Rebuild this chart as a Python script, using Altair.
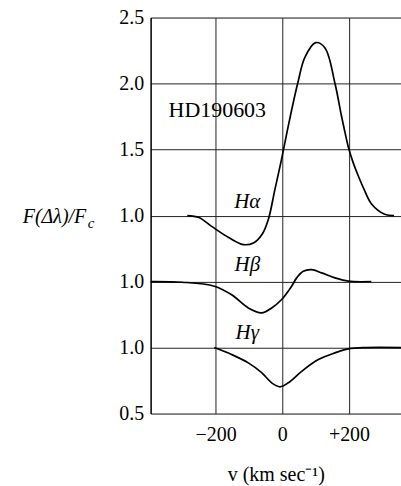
import altair as alt
import pandas as pd

# Balmer line profiles of HD190603: velocity (km/s) and normalised flux F/Fc
v_alpha = [-285, -250, -213, -162, -117, -85, -60, -42, -22, -2, 18, 46, 68, 100, 128, 158, 177, 188, 198, 212, 228, 245, 267, 307, 335]
f_alpha = [1.0, 0.985, 0.92, 0.835, 0.78, 0.795, 0.86, 0.97, 1.2, 1.43, 1.68, 2.0, 2.2, 2.31, 2.27, 2.0, 1.76, 1.63, 1.52, 1.405, 1.30, 1.20, 1.09, 1.01, 1.0]

v_beta = [-395, -300, -204, -152, -102, -62, -32, -2, 28, 43, 63, 88, 118, 158, 198, 267]
f_beta = [1.0, 0.995, 0.965, 0.90, 0.80, 0.763, 0.80, 0.864, 0.965, 1.028, 1.078, 1.09, 1.066, 1.028, 1.003, 1.0]

v_gamma = [-204, -152, -102, -62, -32, -7, 18, 58, 108, 158, 198, 250, 356]
f_gamma = [1.0, 0.947, 0.884, 0.81, 0.733, 0.703, 0.733, 0.82, 0.909, 0.96, 0.99, 1.0, 1.0]

# vertical shift applied to each profile so they stack on one axis
series_names = ["Hα", "Hβ", "Hγ"]
series_offsets = [1.0, 0.5, 0.0]

# axis ticks and the labels printed at them
y_tick_values = [0.5, 1.0, 1.5, 2.0, 2.5, 3.0, 3.5]
y_tick_labels = ["0.5", "1.0", "1.0", "1.0", "1.5", "2.0", "2.5"]
x_tick_values = [-200, 0, 200]
x_tick_labels = ["−200", "0", "+200"]

# line labels and star name, in (velocity, stacked flux) coordinates
label_text = ["Hα", "Hβ", "Hγ"]
label_v = [-105, -105, -105]
label_u = [2.106, 1.629, 1.113]
star_name = "HD190603"
star_v = -195
star_u = 2.80

FONT = "Liberation Serif, Times New Roman, Times, serif"

rows = []
for name, off, vs, fs in zip(series_names, series_offsets,
                             [v_alpha, v_beta, v_gamma],
                             [f_alpha, f_beta, f_gamma]):
    for i, (v, f) in enumerate(zip(vs, fs)):
        rows.append({"series": name, "i": i, "v": v, "u": f + off})
df = pd.DataFrame(rows)


def label_expr(values, labels):
    parts = [f"datum.value == {v} ? '{l}'" for v, l in zip(values, labels)]
    return " : ".join(parts) + " : ''"


x_scale = alt.Scale(domain=[-395, 356], nice=False, zero=False)
y_scale = alt.Scale(domain=[0.5, 3.5], nice=False, zero=False)

x_axis = alt.Axis(
    values=x_tick_values, labelExpr=label_expr(x_tick_values, x_tick_labels),
    grid=True, gridColor="#222", gridWidth=1, domain=False, ticks=False,
    labelFont=FONT, labelFontSize=20, labelColor="black", labelPadding=11,
    title="v (km sec⁻¹)", titleFont=FONT, titleFontSize=20,
    titleFontWeight="normal", titleColor="black", titlePadding=20,
)
y_axis = alt.Axis(
    values=y_tick_values, labelExpr=label_expr(y_tick_values, y_tick_labels),
    grid=True, gridColor="#222", gridWidth=1, domain=True, domainColor="black",
    domainWidth=1.5, ticks=False, labelFont=FONT, labelFontSize=20,
    labelColor="black", labelPadding=7,
    title="F(Δλ)/F", titleFont=FONT, titleFontSize=20, titleFontStyle="italic",
    titleFontWeight="normal", titleColor="black", titleAngle=0,
    titleAlign="right", titleBaseline="middle", titleX=-65, titleY=199,
)

lines = alt.Chart(df).mark_line(
    color="black", strokeWidth=1.7, interpolate="catmull-rom"
).encode(
    x=alt.X("v:Q", scale=x_scale, axis=x_axis),
    y=alt.Y("u:Q", scale=y_scale, axis=y_axis),
    detail="series:N",
    order="i:O",
)

labels_df = pd.DataFrame({"t": label_text, "v": label_v, "u": label_u})
line_labels = alt.Chart(labels_df).mark_text(
    font=FONT, fontSize=21, fontStyle="italic", color="black",
    align="center", baseline="middle",
).encode(x=alt.X("v:Q", scale=x_scale), y=alt.Y("u:Q", scale=y_scale), text="t:N")

star_df = pd.DataFrame({"t": [star_name], "v": [star_v], "u": [star_u]})
star_label = alt.Chart(star_df).mark_text(
    font=FONT, fontSize=22, color="black", align="center", baseline="middle",
).encode(x=alt.X("v:Q", scale=x_scale), y=alt.Y("u:Q", scale=y_scale), text="t:N")

# subscript "c" of the y-axis title
sub_df = pd.DataFrame({"t": ["c"]})
subscript = alt.Chart(sub_df).mark_text(
    font=FONT, fontSize=15, fontStyle="italic", color="black",
    align="left", baseline="middle",
).encode(x=alt.value(-63), y=alt.value(206), text="t:N")

chart = alt.layer(lines, line_labels, star_label, subscript).properties(
    width=251, height=397,
    autosize=alt.AutoSizeParams(type="none"),
    padding={"left": 151, "top": 17, "right": 0, "bottom": 72},
).configure_view(stroke=None).configure(background="white")

chart.save("out.html", embed_options={"renderer": "svg", "actions": False})
